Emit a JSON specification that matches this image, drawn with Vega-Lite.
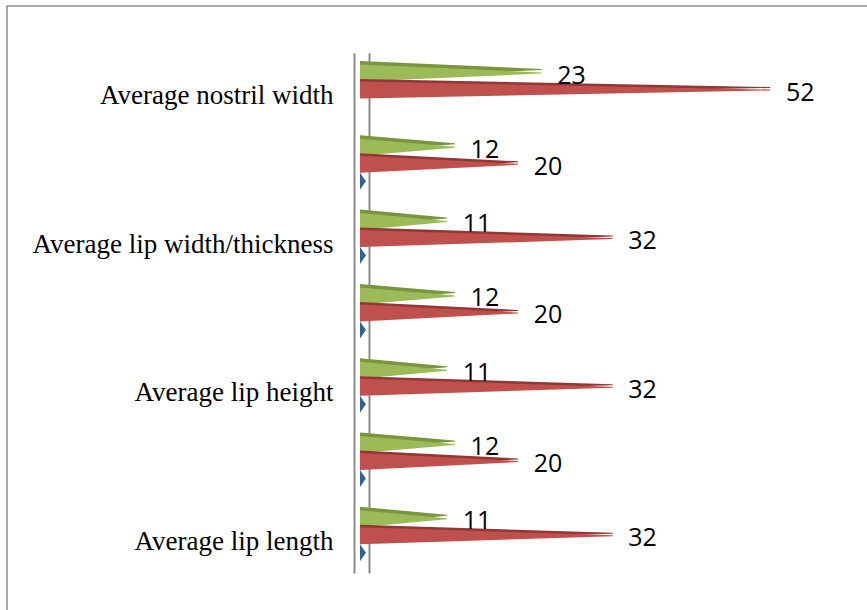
{
  "$schema": "https://vega.github.io/schema/vega-lite/v6.json",
  "width": 900,
  "height": 650,
  "autosize": "none",
  "padding": {"left": 7, "top": 6, "right": 0, "bottom": 0},
  "background": "white",
  "config": {"view": {"stroke": "#8a8a8a", "strokeWidth": 1.5}},
  "data": {
    "values": [
      {"category": "Average nostril width", "series": "Series 3", "value": 23},
      {"category": "Average nostril width", "series": "Series 2", "value": 52},
      {"category": "Average nose height", "series": "Series 3", "value": 12},
      {"category": "Average nose height", "series": "Series 2", "value": 20},
      {"category": "Average nose height", "series": "Series 1", "value": 0.7},
      {"category": "Average lip width/thickness", "series": "Series 3", "value": 11},
      {"category": "Average lip width/thickness", "series": "Series 2", "value": 32},
      {"category": "Average lip width/thickness", "series": "Series 1", "value": 0.7},
      {"category": "Average nose length", "series": "Series 3", "value": 12},
      {"category": "Average nose length", "series": "Series 2", "value": 20},
      {"category": "Average nose length", "series": "Series 1", "value": 0.7},
      {"category": "Average lip height", "series": "Series 3", "value": 11},
      {"category": "Average lip height", "series": "Series 2", "value": 32},
      {"category": "Average lip height", "series": "Series 1", "value": 0.7},
      {"category": "Average nose width", "series": "Series 3", "value": 12},
      {"category": "Average nose width", "series": "Series 2", "value": 20},
      {"category": "Average nose width", "series": "Series 1", "value": 0.7},
      {"category": "Average lip length", "series": "Series 3", "value": 11},
      {"category": "Average lip length", "series": "Series 2", "value": 32},
      {"category": "Average lip length", "series": "Series 1", "value": 0.7}
    ]
  },
  "transform": [
    {"joinaggregate": [{"op": "missing", "field": "value", "as": "base"}]},
    {"fold": ["base", "value"], "as": ["end", "x"]}
  ],
  "encoding": {
    "x": {"field": "x", "type": "quantitative", "scale": {"domain": [0, 60], "range": [353, 826]}, "axis": null},
    "y": {"field": "category", "type": "nominal", "sort": ["Average nostril width", "Average nose height", "Average lip width/thickness", "Average nose length", "Average lip height", "Average nose width", "Average lip length"], "scale": {"range": [46.85, 566.95], "paddingInner": 0, "paddingOuter": 0}, "axis": null}
  },
  "layer": [
    {
      "transform": [{"filter": "datum.series === 'Series 3'"}],
      "mark": {"type": "trail", "color": "#7a953f", "yOffset": -20.5},
      "encoding": {
        "size": {"field": "end", "type": "ordinal", "scale": {"domain": ["base", "value"], "range": [17, 0]}, "legend": null},
        "detail": {"field": "category"},
        "order": {"field": "x", "type": "quantitative"}
      }
    },
    {
      "transform": [{"filter": "datum.series === 'Series 3'"}],
      "mark": {"type": "trail", "color": "#9bbb59", "yOffset": -17},
      "encoding": {
        "size": {"field": "end", "type": "ordinal", "scale": {"domain": ["base", "value"], "range": [17, 0]}, "legend": null},
        "detail": {"field": "category"},
        "order": {"field": "x", "type": "quantitative"}
      }
    },
    {
      "transform": [{"filter": "datum.series === 'Series 2'"}],
      "mark": {"type": "trail", "color": "#8f3836", "yOffset": -2.5},
      "encoding": {
        "size": {"field": "end", "type": "ordinal", "scale": {"domain": ["base", "value"], "range": [17, 0]}, "legend": null},
        "detail": {"field": "category"},
        "order": {"field": "x", "type": "quantitative"}
      }
    },
    {
      "transform": [{"filter": "datum.series === 'Series 2'"}],
      "mark": {"type": "trail", "color": "#c0504d", "yOffset": 0},
      "encoding": {
        "y": {"field": "category", "type": "nominal", "sort": ["Average nostril width", "Average nose height", "Average lip width/thickness", "Average nose length", "Average lip height", "Average nose width", "Average lip length"], "scale": {"range": [46.85, 566.95], "paddingInner": 0, "paddingOuter": 0},
          "axis": {"orient": "left", "offset": -347, "zindex": 1, "values": ["Average nostril width", "Average lip width/thickness", "Average lip height", "Average lip length"], "ticks": false, "domain": true, "domainColor": "#8c8c8c", "domainWidth": 2, "grid": false, "title": null, "labelPadding": 21, "labelFont": "Liberation Serif", "labelFontSize": 27, "labelColor": "#000000", "labelOffset": 6, "labelLimit": 400}},
        "size": {"field": "end", "type": "ordinal", "scale": {"domain": ["base", "value"], "range": [17, 0]}, "legend": null},
        "detail": {"field": "category"},
        "order": {"field": "x", "type": "quantitative"}
      }
    },
    {
      "transform": [{"filter": "datum.series === 'Series 1'"}],
      "mark": {"type": "trail", "color": "#35608f", "yOffset": 17},
      "encoding": {
        "size": {"field": "end", "type": "ordinal", "scale": {"domain": ["base", "value"], "range": [17, 0]}, "legend": null},
        "detail": {"field": "category"},
        "order": {"field": "x", "type": "quantitative"}
      }
    },
    {
      "mark": {"type": "rect", "color": "#ffffff"},
      "encoding": {
        "x": {"datum": -1.25, "type": "quantitative"},
        "x2": {"datum": 0}
      }
    },
    {
      "transform": [{"filter": "datum.series === 'Series 3' && datum.end === 'value'"}],
      "mark": {"type": "text", "align": "left", "baseline": "middle", "dx": 16, "dy": 2.5, "yOffset": -17, "font": "Open Sans", "fontSize": 25, "color": "#000000"},
      "encoding": {
        "text": {"field": "x", "type": "quantitative"}
      }
    },
    {
      "transform": [{"filter": "datum.series === 'Series 2' && datum.end === 'value'"}],
      "mark": {"type": "text", "align": "left", "baseline": "middle", "dx": 16, "dy": 2.5, "yOffset": 0, "font": "Open Sans", "fontSize": 25, "color": "#000000"},
      "encoding": {
        "y": {"field": "category", "type": "nominal", "sort": ["Average nostril width", "Average nose height", "Average lip width/thickness", "Average nose length", "Average lip height", "Average nose width", "Average lip length"], "scale": {"range": [46.85, 566.95], "paddingInner": 0, "paddingOuter": 0},
          "axis": {"orient": "right", "offset": -538, "labels": false, "ticks": false, "domain": true, "domainColor": "#8c8c8c", "domainWidth": 2, "grid": false, "title": null}},
        "text": {"field": "x", "type": "quantitative"}
      }
    }
  ],
  "resolve": {"axis": {"y": "independent"}}
}
